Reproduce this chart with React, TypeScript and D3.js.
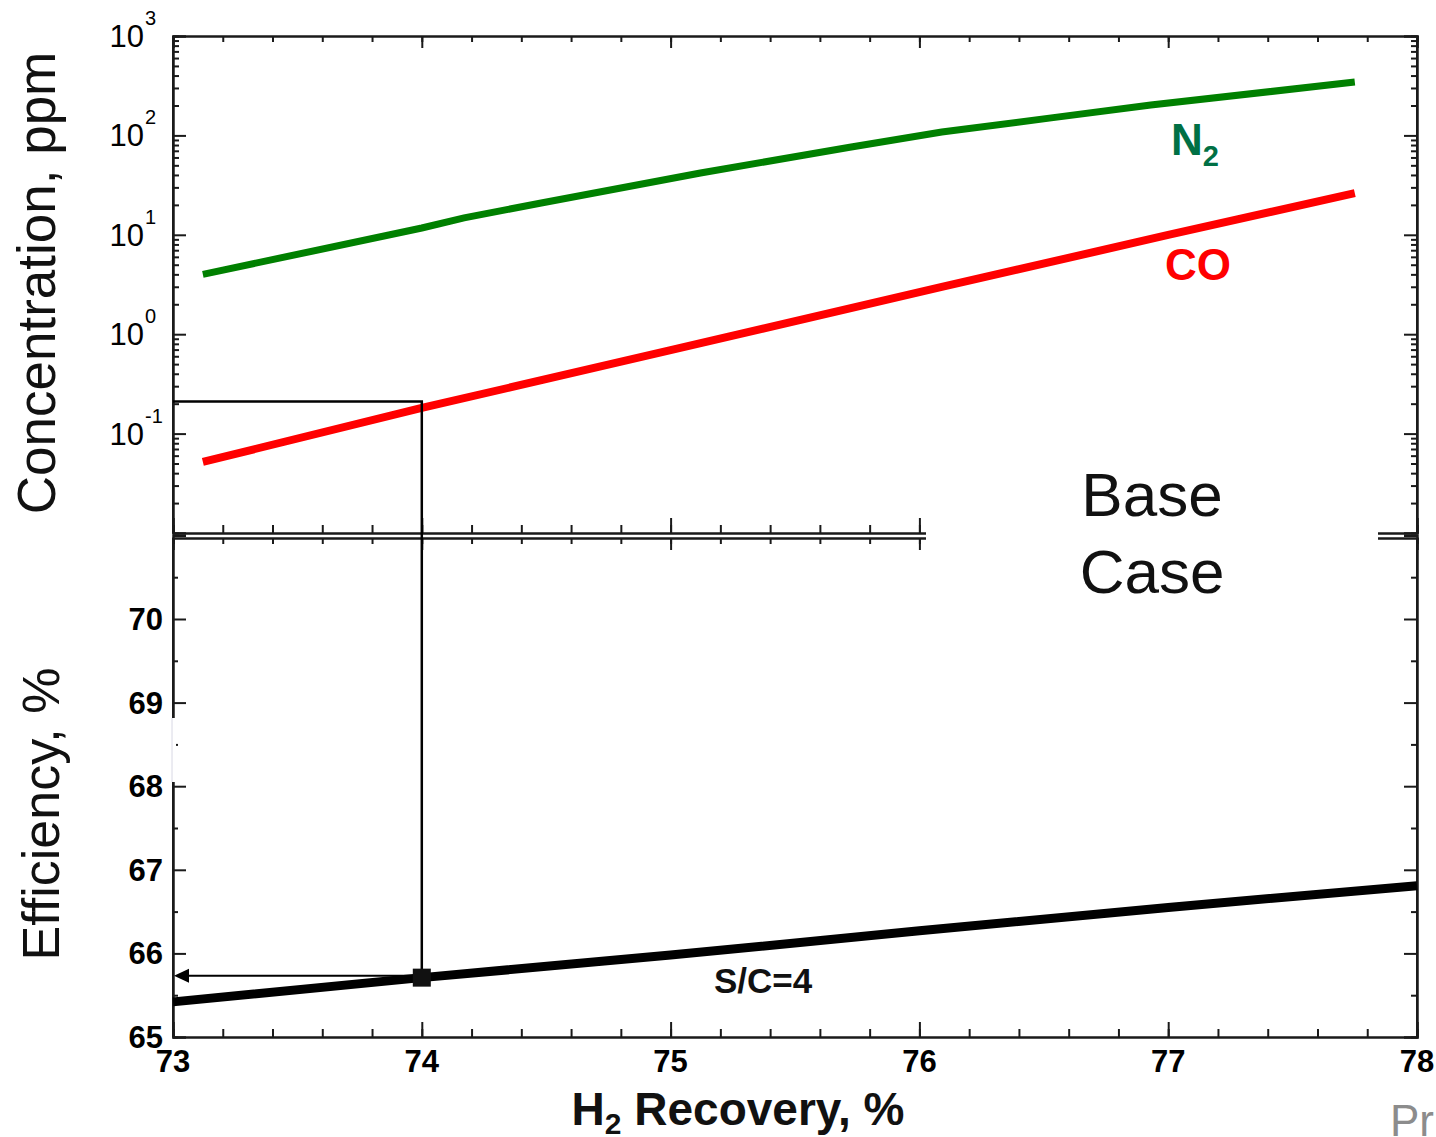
import { useEffect, useRef } from 'react'
import * as d3 from 'd3'

// N2 and CO concentration vs H2 recovery (top panel, log scale)
const n2Recovery = [73.12, 74.0, 74.17, 74.48, 75.12, 75.72, 76.09, 76.53, 76.93, 77.75]
const n2Ppm = [4.0, 11.7, 14.8, 20.9, 41.9, 76, 108, 150, 202, 344]
const coRecovery = [73.12, 74.0, 75.0, 76.09, 77.0, 77.75]
const coPpm = [0.052, 0.181, 0.69, 2.99, 9.96, 26.3]

// efficiency vs H2 recovery (bottom panel)
const effRecovery = [73, 74, 75, 76, 77, 78]
const efficiency = [65.42, 65.71, 65.98, 66.27, 66.55, 66.81]

// operating point picked out on the chart
const pickRecovery = 74
const pickPpm = 0.21
const pickEff = 65.71

const xTicks = [73, 74, 75, 76, 77, 78]
const effTicks = [65, 66, 67, 68, 69, 70]
const logExps = [-1, 0, 1, 2, 3]

const FONT = "'Liberation Sans', Arial, Helvetica, sans-serif"
const W = 1436
const H = 1137

function App() {
  const ref = useRef<SVGSVGElement>(null)

  useEffect(() => {
    const svg = d3.select(ref.current)
    svg.selectAll('*').remove()

    const left = 173
    const right = 1417
    const topY0 = 36
    const topY1 = 533
    const botY0 = 538
    const botY1 = 1037

    const x = d3.scaleLinear().domain([73, 78]).range([left, right])
    const yLog = d3.scaleLog().domain([1e-2, 1e3]).range([topY1, topY0])
    const yEff = d3.scaleLinear().domain([65, 71]).range([botY1, botY1 - 6 * 83.6])

    const ink = '#1a1a1a'
    const minorX = d3.range(73, 78.001, 0.2).map((v) => +v.toFixed(1))

    const drawAxis = (g: any) =>
      g.call((s: any) => s.select('.domain').attr('stroke', ink).attr('stroke-width', 2))
        .call((s: any) => s.selectAll('line').attr('stroke', ink).attr('stroke-width', 2))
        .call((s: any) => s.selectAll('text').remove())

    // ---- top panel frame + ticks
    const logMinor: number[] = []
    for (let e = -2; e < 3; e++) for (let m = 2; m <= 9; m++) logMinor.push(m * Math.pow(10, e))
    const logMajor = [1e-2, 1e-1, 1, 10, 100, 1000]

    const frame = svg.append('g')
    frame.append('g').attr('transform', `translate(0,${topY0})`)
      .call(d3.axisBottom(x).tickValues(minorX).tickSizeOuter(0).tickSize(6)).call(drawAxis)
    frame.append('g').attr('transform', `translate(0,${topY0})`)
      .call(d3.axisBottom(x).tickValues(xTicks).tickSizeOuter(0).tickSize(12)).call(drawAxis)
    frame.append('g').attr('transform', `translate(0,${topY1})`)
      .call(d3.axisTop(x).tickValues(minorX).tickSizeOuter(0).tickSize(8)).call(drawAxis)
    frame.append('g').attr('transform', `translate(0,${topY1})`)
      .call(d3.axisTop(x).tickValues(xTicks).tickSizeOuter(0).tickSize(15)).call(drawAxis)
    frame.append('g').attr('transform', `translate(${left},0)`)
      .call(d3.axisRight(yLog).tickValues(logMinor).tickSizeOuter(0).tickSize(6)).call(drawAxis)
    frame.append('g').attr('transform', `translate(${left},0)`)
      .call(d3.axisRight(yLog).tickValues(logMajor).tickSizeOuter(0).tickSize(13)).call(drawAxis)
    frame.append('g').attr('transform', `translate(${right},0)`)
      .call(d3.axisLeft(yLog).tickValues(logMinor).tickSizeOuter(0).tickSize(6)).call(drawAxis)
    frame.append('g').attr('transform', `translate(${right},0)`)
      .call(d3.axisLeft(yLog).tickValues(logMajor).tickSizeOuter(0).tickSize(13)).call(drawAxis)

    // ---- bottom panel frame + ticks
    const effMinor = d3.range(65.5, 71, 1)
    frame.append('g').attr('transform', `translate(0,${botY0})`)
      .call(d3.axisBottom(x).tickValues(minorX).tickSizeOuter(0).tickSize(6)).call(drawAxis)
    frame.append('g').attr('transform', `translate(0,${botY0})`)
      .call(d3.axisBottom(x).tickValues(xTicks).tickSizeOuter(0).tickSize(12)).call(drawAxis)
    frame.append('g').attr('transform', `translate(0,${botY1})`)
      .call(d3.axisTop(x).tickValues(minorX).tickSizeOuter(0).tickSize(8)).call(drawAxis)
    frame.append('g').attr('transform', `translate(0,${botY1})`)
      .call(d3.axisTop(x).tickValues(xTicks).tickSizeOuter(0).tickSize(15)).call(drawAxis)
    frame.append('g').attr('transform', `translate(${left},0)`)
      .call(d3.axisRight(yEff).tickValues(effMinor).tickSizeOuter(0).tickSize(5)).call(drawAxis)
    frame.append('g').attr('transform', `translate(${left},0)`)
      .call(d3.axisRight(yEff).tickValues(effTicks).tickSizeOuter(0).tickSize(13)).call(drawAxis)
    frame.append('g').attr('transform', `translate(${right},0)`)
      .call(d3.axisLeft(yEff).tickValues(effMinor).tickSizeOuter(0).tickSize(6)).call(drawAxis)
    frame.append('g').attr('transform', `translate(${right},0)`)
      .call(d3.axisLeft(yEff).tickValues(effTicks).tickSizeOuter(0).tickSize(13)).call(drawAxis)
    // vertical frame lines so panels close cleanly
    ;[left, right].forEach((px) => {
      frame.append('line').attr('x1', px).attr('x2', px).attr('y1', topY0).attr('y2', topY1)
        .attr('stroke', ink).attr('stroke-width', 2)
      frame.append('line').attr('x1', px).attr('x2', px).attr('y1', botY0).attr('y2', botY1)
        .attr('stroke', ink).attr('stroke-width', 2)
    })
    // faded stretch of the left efficiency axis
    frame.append('rect').attr('x', left - 3).attr('y', 718).attr('width', 6).attr('height', 64).attr('fill', '#fff')
    frame.append('line').attr('x1', left - 1).attr('x2', left - 1).attr('y1', 718).attr('y2', 782)
      .attr('stroke', '#d8d8e4').attr('stroke-width', 1)

    // ---- tick labels
    const labels = svg.append('g').attr('font-family', FONT).attr('fill', '#000')
    logExps.forEach((e) => {
      const yy = yLog(Math.pow(10, e))
      labels.append('text').attr('x', 144).attr('y', yy + 11).attr('text-anchor', 'end')
        .attr('font-size', 31).text('10')
      labels.append('text').attr('x', 145).attr('y', yy - 11).attr('font-size', 20).text(String(e))
    })
    effTicks.forEach((v) => {
      labels.append('text').attr('x', 163).attr('y', yEff(v) + 11).attr('text-anchor', 'end')
        .attr('font-size', 31).attr('font-weight', 'bold').text(String(v))
    })
    xTicks.forEach((v) => {
      labels.append('text').attr('x', x(v)).attr('y', 1072).attr('text-anchor', 'middle')
        .attr('font-size', 31).attr('font-weight', 'bold').text(String(v))
    })

    // ---- series
    const logLine = d3.line<[number, number]>().x((d) => x(d[0])).y((d) => yLog(d[1]))
    const effLine = d3.line<[number, number]>().x((d) => x(d[0])).y((d) => yEff(d[1]))

    svg.append('path').attr('d', logLine(d3.zip(n2Recovery, n2Ppm) as [number, number][]))
      .attr('fill', 'none').attr('stroke', '#008000').attr('stroke-width', 7)
    svg.append('path').attr('d', logLine(d3.zip(coRecovery, coPpm) as [number, number][]))
      .attr('fill', 'none').attr('stroke', '#ff0000').attr('stroke-width', 8)
    svg.append('path').attr('d', effLine(d3.zip(effRecovery, efficiency) as [number, number][]))
      .attr('fill', 'none').attr('stroke', '#000').attr('stroke-width', 9)

    // ---- pick lines
    const px = x(pickRecovery)
    const pyTop = yLog(pickPpm)
    const pyBot = yEff(pickEff)
    svg.append('path').attr('d', `M${left},${pyTop}H${px}V${pyBot}`)
      .attr('fill', 'none').attr('stroke', '#000').attr('stroke-width', 2.5)
    svg.append('line').attr('x1', px).attr('x2', left + 14).attr('y1', pyBot - 2).attr('y2', pyBot - 2)
      .attr('stroke', '#000').attr('stroke-width', 2)
    svg.append('path')
      .attr('d', `M${left + 1},${pyBot - 2}l15,-7v14z`)
      .attr('fill', '#000')
    svg.append('rect').attr('x', px - 9).attr('y', pyBot - 9).attr('width', 18).attr('height', 18)
      .attr('fill', '#111')

    // ---- white box behind the case label
    svg.append('rect').attr('x', 926).attr('y', 450).attr('width', 1378 - 926).attr('height', 160)
      .attr('fill', '#fff')

    // ---- annotations
    const notes = svg.append('g').attr('font-family', FONT)
    const n2 = notes.append('text').attr('x', 1171).attr('y', 155).attr('fill', '#007045')
      .attr('font-size', 44).attr('font-weight', 'bold')
    n2.append('tspan').text('N')
    n2.append('tspan').attr('font-size', 29).attr('dy', 11).text('2')
    notes.append('text').attr('x', 1165).attr('y', 280).attr('fill', '#ff0000')
      .attr('font-size', 44).attr('font-weight', 'bold').text('CO')
    notes.append('text').attr('x', 1152).attr('y', 516).attr('text-anchor', 'middle')
      .attr('font-size', 62).attr('fill', '#111').text('Base')
    notes.append('text').attr('x', 1152).attr('y', 593).attr('text-anchor', 'middle')
      .attr('font-size', 62).attr('fill', '#111').text('Case')
    notes.append('text').attr('x', 714).attr('y', 993).attr('font-size', 35)
      .attr('font-weight', 'bold').attr('fill', '#111').text('S/C=4')

    // ---- axis titles
    notes.append('text').attr('transform', 'translate(55,283) rotate(-90)').attr('text-anchor', 'middle')
      .attr('font-size', 53).attr('fill', '#111').text('Concentration, ppm')
    notes.append('text').attr('transform', 'translate(59,814) rotate(-90)').attr('text-anchor', 'middle')
      .attr('font-size', 52).attr('fill', '#111').text('Efficiency, %')
    const xt = notes.append('text').attr('x', 738).attr('y', 1125).attr('text-anchor', 'middle')
      .attr('font-size', 46).attr('font-weight', 'bold').attr('fill', '#111')
    xt.append('tspan').text('H')
    xt.append('tspan').attr('font-size', 30).attr('dy', 9).text('2')
    xt.append('tspan').attr('dy', -9).text(' Recovery, %')

    notes.append('text').attr('x', 1390).attr('y', 1136).attr('font-size', 44).attr('fill', '#8c8c8c').text('Pr')
  }, [])

  return (
    <svg
      ref={ref}
      width={W}
      height={H}
      viewBox={`0 0 ${W} ${H}`}
      style={{ position: 'absolute', left: 0, top: 0, background: '#fff', display: 'block' }}
    />
  )
}

export default App
